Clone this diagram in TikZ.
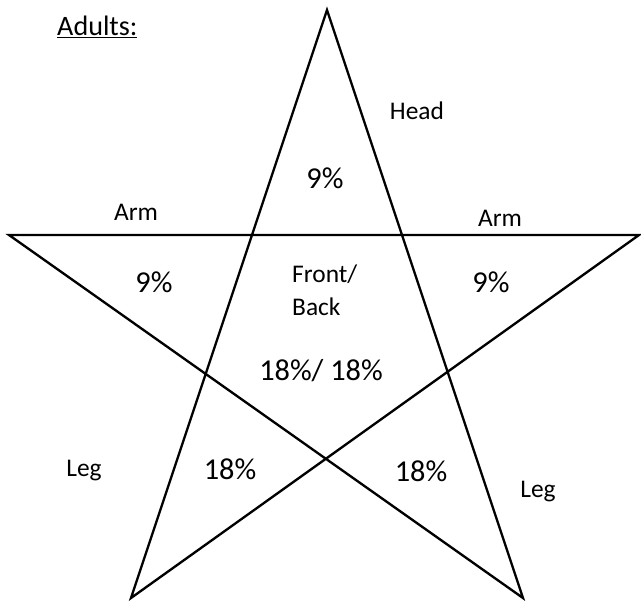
\documentclass[tikz,border=0pt]{standalone}
\usepackage{fontspec}
\setmainfont{Carlito}
\tikzset{
  part/.style={inner sep=0pt, font=\fontsize{21.7}{26}\selectfont},
  pct/.style={inner sep=0pt, font=\fontsize{25.9}{31}\selectfont}
}
\begin{document}
\begin{tikzpicture}[x=0.03cm, y=-0.03cm]
\useasboundingbox (0,0) rectangle (641,602);

% Puntas de la estrella
\coordinate (top) at (327,10);
\coordinate (left) at (9,235);
\coordinate (right) at (639,235);
\coordinate (botL) at (131,598);
\coordinate (botR) at (523,598);

\draw[line width=2pt, line join=miter] (top) -- (botL) -- (right) -- (left) -- (botR) -- cycle;

% Titulo
\node[anchor=base west, inner sep=0pt, font=\fontsize{24}{28}\selectfont] (title) at (57,35) {\underline{Adults:}};

% Partes del cuerpo
\node[part, anchor=base] (head) at (417,119) {Head};
\node[part, anchor=base] (armL) at (136,220) {Arm};
\node[part, anchor=base] (armR) at (500,226) {Arm};
\node[part, anchor=base west] (front) at (292,282) {Front/};
\node[part, anchor=base west] (back) at (292,315) {Back};
\node[part, anchor=base] (legL) at (84,476) {Leg};
\node[part, anchor=base] (legR) at (538,497) {Leg};

% Porcentajes
\node[pct, anchor=base] (pHead) at (325,188) {9\%};
\node[pct, anchor=base] (pArmL) at (154,292) {9\%};
\node[pct, anchor=base] (pArmR) at (491,292) {9\%};
\node[pct, anchor=base] (pTrunk) at (321,380) {18\%/ 18\%};
\node[pct, anchor=base] (pLegL) at (230,479) {18\%};
\node[pct, anchor=base] (pLegR) at (421,481) {18\%};
\end{tikzpicture}
\end{document}
